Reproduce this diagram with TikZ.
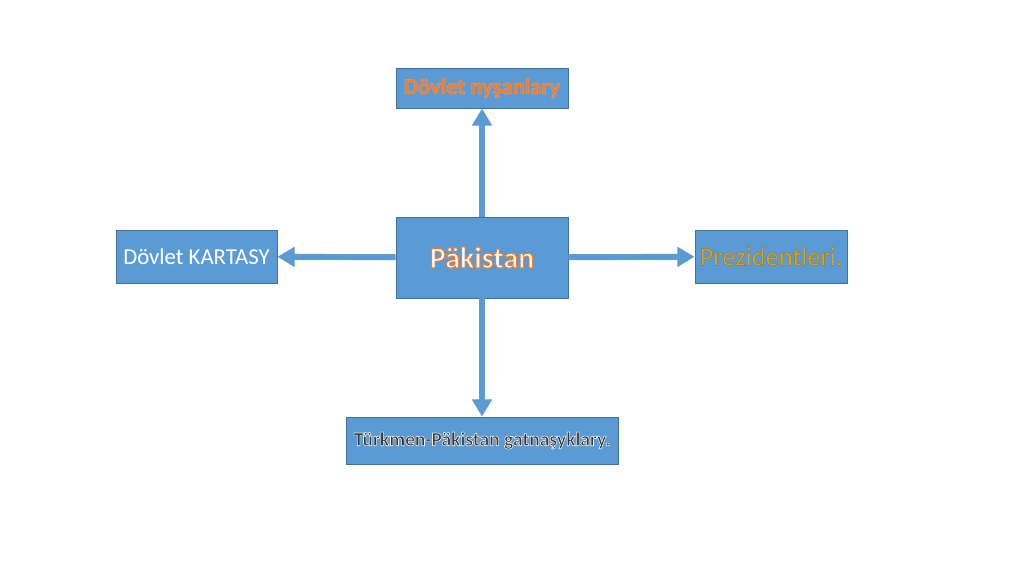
\documentclass[tikz,border=0pt]{standalone}
\usepackage{fontspec}
\setmainfont{Carlito}
\usetikzlibrary{arrows.meta}
\definecolor{boxblue}{HTML}{5B9BD5}
\definecolor{boxline}{HTML}{41719C}
\definecolor{txtorange}{HTML}{ED7D31}
\definecolor{txtgold}{HTML}{D4A72C}
% text with a stroked outline: fill colour, stroke rgb, stroke width, text
\newcommand\outlined[4]{{\color{#1}\special{pdf:literal q #2 RG #3 w 2 Tr}#4\special{pdf:literal Q}}}

\begin{document}
\begin{tikzpicture}[x=0.025cm,y=-0.025cm,
  box/.style={draw=boxline,fill=boxblue,line width=0.6pt,inner sep=0pt},
  link/.style={-{Triangle[length=0.43cm,width=0.48cm]},color=boxblue,line width=4.2pt}]
\useasboundingbox (0,0) rectangle (1024,574);
\node[box,minimum width=4.3cm,minimum height=2.025cm,font=\fontsize{21.3}{24}\selectfont\bfseries]
  (pak) at (482,257.5) {\outlined{white}{0.93 0.49 0.19}{0.8}{Päkistan}};
\node[box,minimum width=4.3cm,minimum height=1cm,font=\fontsize{16}{19}\selectfont\bfseries]
  (nysan) at (482,88) {\outlined{txtorange}{0.96 0.6 0.35}{0.3}{Dövlet nyşanlary}};
\node[box,minimum width=4.025cm,minimum height=1.325cm,text=white,font=\fontsize{16.2}{19}\selectfont]
  (karta) at (196.5,256.5) {Dövlet KARTASY};
\node[box,minimum width=3.8cm,minimum height=1.325cm,font=\fontsize{18.8}{22}\selectfont]
  (prez) at (771,256.5) {\outlined{txtgold}{0.6 0.45 0.12}{0.3}{Prezidentleri.}};
\node[box,minimum width=6.8cm,minimum height=1.175cm,font=\fontsize{13.9}{16}\selectfont\bfseries]
  (gatn) at (482,440.5) {\outlined{black!80}{0.95 0.95 0.95}{0.45}{Türkmen-Päkistan gatnaşyklary.}};
\path[link]
(pak) edge (nysan)
(pak) edge (karta)
(pak) edge (prez)
(pak) edge (gatn)
;
\end{tikzpicture}
\end{document}
